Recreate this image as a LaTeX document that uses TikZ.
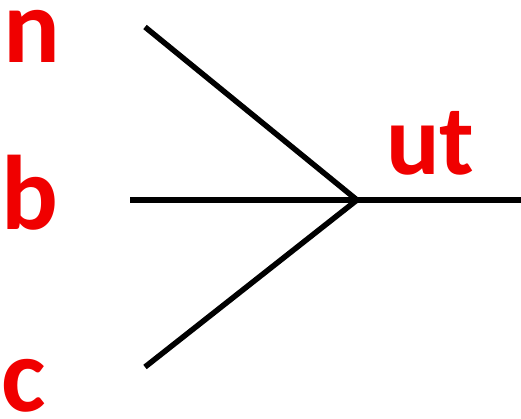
\documentclass[tikz,border=0pt]{standalone}
\usepackage{fontspec}
\setmainfont{Carlito}
\definecolor{lblred}{RGB}{240,0,0}
\begin{document}
\begin{tikzpicture}[x=1pt,y=1pt,
  lbl/.style={inner sep=0pt,anchor=base west,text=lblred,font=\fontsize{106}{106}\selectfont\bfseries},
  wire/.style={line width=5.5pt,black}]
\useasboundingbox (0,0) rectangle (521,419);
\node[lbl] (n) at (3,356) {n};
\node[lbl] (b) at (1,189) {b};
\node[lbl] (c) at (1,7) {c};
\node[lbl,font=\fontsize{100}{100}\selectfont\bfseries] (ut) at (386,244) {ut};
\coordinate (j) at (357,219);
\coordinate (na) at (145,392);
\coordinate (ba) at (130,219);
\coordinate (ca) at (145,52);
\coordinate (out) at (521,219);
\draw[wire] (na) -- (j);
\draw[wire] (ba) -- (out);
\draw[wire] (ca) -- (j);
\end{tikzpicture}
\end{document}
